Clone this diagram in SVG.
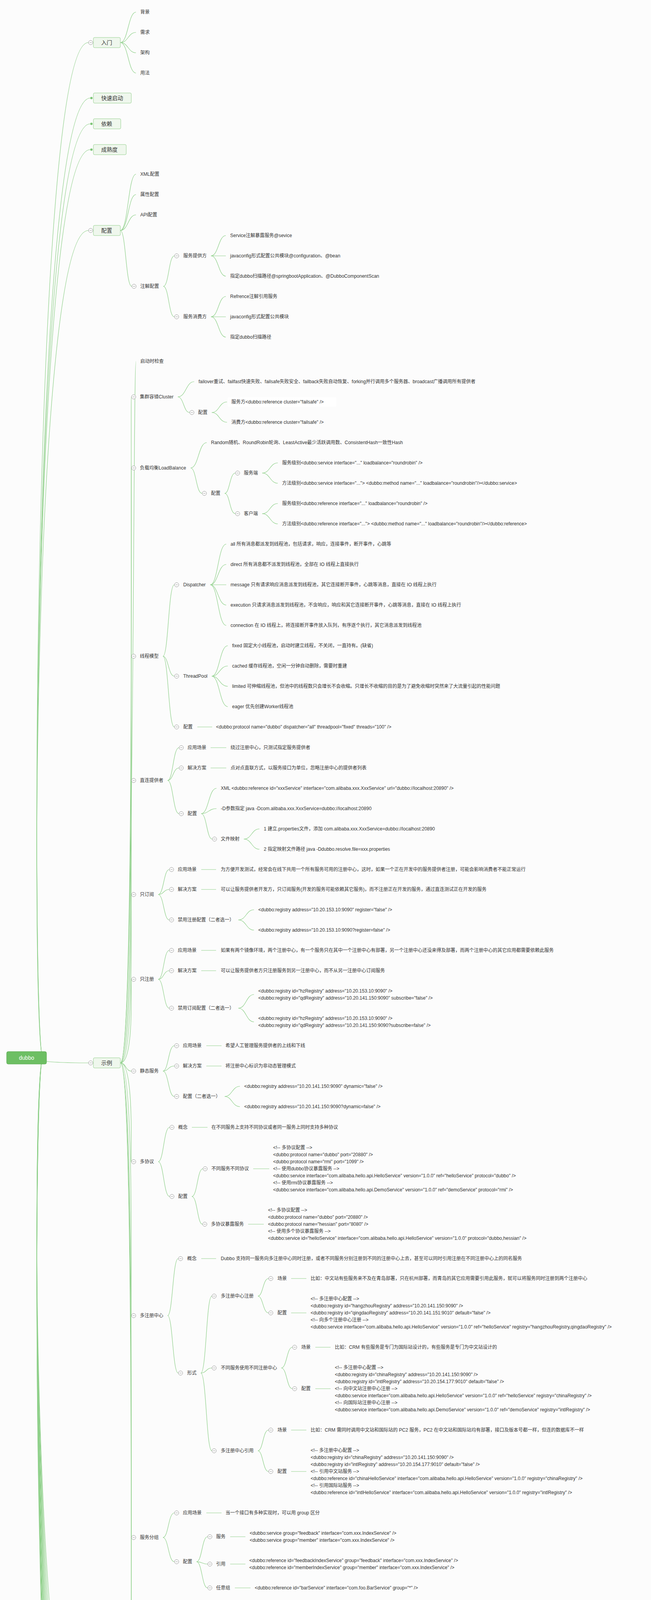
<svg xmlns="http://www.w3.org/2000/svg" xmlns:xlink="http://www.w3.org/1999/xlink" width="1666" height="5341" viewBox="0 0 1666 5341">
<style>
.ln{fill:none;stroke:#8fd08a;stroke-width:1.2}
.t{font-family:"Liberation Sans","Noto Sans CJK SC",sans-serif;font-size:12px;fill:#333;dominant-baseline:central}
.bt{font-size:14px}
.box{fill:#eff7ed;stroke:#93cf8c;stroke-width:1}
.root{fill:#6dbf63;stroke:#5aa951}
.rt{fill:#fff;font-size:14px;text-anchor:middle}
.dot{fill:#7cc575}
.cc{fill:#fff;stroke:#9a9a9a;stroke-width:1}
.cm{stroke:#9a9a9a;stroke-width:1}
</style>
<defs>
<g id="col"><circle class="cc" r="5.5"/><line class="cm" x1="-3" y1="0" x2="3" y2="0"/></g>
</defs>
<rect width="1666" height="5341" fill="#fcfcfc"/>
<rect x="583" y="1017" width="278" height="24" rx="3" fill="#ffffff"/>

<g id="connectors">
<!-- root -->
<path class="ln" d="M110,2708C80,2708 80,109 226,109"/>
<path class="ln" d="M110,2708C80,2708 80,251 231,251"/>
<path class="ln" d="M110,2708C80,2708 80,317 231,317"/>
<path class="ln" d="M110,2708C80,2708 80,383 231,383"/>
<path class="ln" d="M110,2708C80,2708 80,590 226,590"/>
<path class="ln" d="M110,2708C80,2708 80,2721 226,2721"/>
<path class="ln" d="M110,2708C80,2708 80,4580 231,4580"/>
<path class="ln" d="M110,2708C80,2708 80,4647 231,4647"/>
<path class="ln" d="M110,2708C80,2708 80,4713 231,4713"/>
<path class="ln" d="M110,2708C80,2708 80,4779 231,4779"/>
<path class="ln" d="M110,2708C80,2708 80,4845 231,4845"/>
<path class="ln" d="M110,2708C80,2708 80,4911 231,4911"/>
<path class="ln" d="M110,2708C80,2708 80,4977 231,4977"/>
<path class="ln" d="M110,2708C80,2708 80,5043 231,5043"/>
<path class="ln" d="M110,2708C80,2708 80,5109 231,5109"/>
<path class="ln" d="M110,2708C80,2708 80,5175 231,5175"/>
<path class="ln" d="M110,2708C80,2708 80,5241 231,5241"/>
<path class="ln" d="M110,2708C80,2708 80,5307 231,5307"/>
<!-- 入门 -->
<path class="ln" d="M308,109C328,109 328,31 348,31"/>
<path class="ln" d="M308,109C328,109 328,83 348,83"/>
<path class="ln" d="M308,109C328,109 328,135 348,135"/>
<path class="ln" d="M308,109C328,109 328,187 348,187"/>
<!-- 配置 -->
<path class="ln" d="M308,590C328,590 328,446 348,446"/>
<path class="ln" d="M308,590C328,590 328,498 348,498"/>
<path class="ln" d="M308,590C328,590 328,550 348,550"/>
<path class="ln" d="M308,590C322,590 322,733 337,733"/>
<path class="ln" d="M418,733C432,733 432,655 446,655"/>
<path class="ln" d="M418,733C432,733 432,811 446,811"/>
<path class="ln" d="M540,655C559,655 559,603 578,603"/>
<path class="ln" d="M540,655L578,655"/>
<path class="ln" d="M540,655C559,655 559,707 578,707"/>
<path class="ln" d="M540,811C559,811 559,759 578,759"/>
<path class="ln" d="M540,811L578,811"/>
<path class="ln" d="M540,811C559,811 559,863 578,863"/>
<!-- 示例 -->
<path class="ln" d="M308,2721C345,2721 340,925 348,925"/>
<path class="ln" d="M308,2721C345,2721 334,1016 336,1016"/>
<path class="ln" d="M308,2721C345,2721 334,1198 336,1198"/>
<path class="ln" d="M308,2721C345,2721 334,1680 336,1680"/>
<path class="ln" d="M308,2721C345,2721 334,1998 336,1998"/>
<path class="ln" d="M308,2721C345,2721 334,2290 336,2290"/>
<path class="ln" d="M308,2721C345,2721 334,2507 336,2507"/>
<path class="ln" d="M308,2721C322,2721 322,2742 336,2742"/>
<path class="ln" d="M308,2721C345,2721 334,2974 336,2974"/>
<path class="ln" d="M308,2721C345,2721 334,3368 336,3368"/>
<path class="ln" d="M308,2721C345,2721 334,3936 336,3936"/>
<path class="ln" d="M308,2721C345,2721 334,4246 336,4246"/>
<path class="ln" d="M308,2721C345,2721 334,4517 336,4517"/>
<!-- 集群容错 -->
<path class="ln" d="M455,1016C476,1016 476,977 497,977"/>
<path class="ln" d="M455,1016C470,1016 470,1056 485,1056"/>
<path class="ln" d="M542,1056C561,1056 561,1029 581,1029"/>
<path class="ln" d="M542,1056C561,1056 561,1081 581,1081"/>
<!-- 负载均衡 -->
<path class="ln" d="M488,1198C508,1198 508,1133 529,1133"/>
<path class="ln" d="M488,1198C502,1198 502,1263 517,1263"/>
<path class="ln" d="M575,1263C588,1263 588,1211 602,1211"/>
<path class="ln" d="M575,1263C588,1263 588,1315 602,1315"/>
<path class="ln" d="M671,1211C691,1211 691,1185 711,1185"/>
<path class="ln" d="M671,1211C691,1211 691,1237 711,1237"/>
<path class="ln" d="M671,1315C691,1315 691,1289 711,1289"/>
<path class="ln" d="M671,1315C691,1315 691,1341 711,1341"/>
<!-- 线程模型 -->
<path class="ln" d="M417,1680C431,1680 431,1497 446,1497"/>
<path class="ln" d="M417,1680C431,1680 431,1731 446,1731"/>
<path class="ln" d="M417,1680C431,1680 431,1861 446,1861"/>
<path class="ln" d="M538,1497C558,1497 558,1393 579,1393"/>
<path class="ln" d="M538,1497C558,1497 558,1445 579,1445"/>
<path class="ln" d="M538,1497L579,1497"/>
<path class="ln" d="M538,1497C558,1497 558,1549 579,1549"/>
<path class="ln" d="M538,1497C558,1497 558,1601 579,1601"/>
<path class="ln" d="M542,1731C562,1731 562,1653 583,1653"/>
<path class="ln" d="M542,1731C562,1731 562,1705 583,1705"/>
<path class="ln" d="M542,1731C562,1731 562,1757 583,1757"/>
<path class="ln" d="M542,1731C562,1731 562,1809 583,1809"/>
<path class="ln" d="M505,1861L543,1861"/>
<!-- 直连提供者 -->
<path class="ln" d="M429,1998C443,1998 443,1914 458,1914"/>
<path class="ln" d="M429,1998C443,1998 443,1966 458,1966"/>
<path class="ln" d="M429,1998C443,1998 443,2083 458,2083"/>
<path class="ln" d="M539,1914L579,1914"/>
<path class="ln" d="M539,1966L579,1966"/>
<path class="ln" d="M515,2083C534,2083 534,2018 554,2018"/>
<path class="ln" d="M515,2083C534,2083 534,2070 554,2070"/>
<path class="ln" d="M515,2083C529,2083 529,2148 543,2148"/>
<path class="ln" d="M624,2148C644,2148 644,2122 664,2122"/>
<path class="ln" d="M624,2148C644,2148 644,2174 664,2174"/>
<!-- 只订阅 -->
<path class="ln" d="M405,2290C419,2290 419,2226 433,2226"/>
<path class="ln" d="M405,2290C419,2290 419,2277 433,2277"/>
<path class="ln" d="M405,2290C419,2290 419,2355 433,2355"/>
<path class="ln" d="M515,2226L553,2226"/>
<path class="ln" d="M515,2277L553,2277"/>
<path class="ln" d="M610,2355C630,2355 630,2329 650,2329"/>
<path class="ln" d="M610,2355C630,2355 630,2381 650,2381"/>
<!-- 只注册 -->
<path class="ln" d="M405,2507C419,2507 419,2433 433,2433"/>
<path class="ln" d="M405,2507C419,2507 419,2485 433,2485"/>
<path class="ln" d="M405,2507C419,2507 419,2581 433,2581"/>
<path class="ln" d="M515,2433L553,2433"/>
<path class="ln" d="M515,2485L553,2485"/>
<path class="ln" d="M610,2581C630,2581 630,2546 650,2546"/>
<path class="ln" d="M610,2581C630,2581 630,2616 650,2616"/>
<!-- 静态服务 -->
<path class="ln" d="M417,2742C431,2742 431,2677 446,2677"/>
<path class="ln" d="M417,2742C431,2742 431,2729 446,2729"/>
<path class="ln" d="M417,2742C431,2742 431,2807 446,2807"/>
<path class="ln" d="M528,2677L567,2677"/>
<path class="ln" d="M528,2729L567,2729"/>
<path class="ln" d="M575,2807C594,2807 594,2781 614,2781"/>
<path class="ln" d="M575,2807C594,2807 594,2833 614,2833"/>
<!-- 多协议 -->
<path class="ln" d="M405,2974C419,2974 419,2886 434,2886"/>
<path class="ln" d="M405,2974C419,2974 419,3063 434,3063"/>
<path class="ln" d="M491,2886L531,2886"/>
<path class="ln" d="M491,3063C505,3063 505,2992 519,2992"/>
<path class="ln" d="M491,3063C505,3063 505,3134 518,3134"/>
<path class="ln" d="M648,2992L689,2992"/>
<path class="ln" d="M635,3134L675,3134"/>
<!-- 多注册中心 -->
<path class="ln" d="M429,3368C442,3368 442,3222 456,3222"/>
<path class="ln" d="M429,3368C442,3368 442,3515 456,3515"/>
<path class="ln" d="M515,3222L553,3222"/>
<path class="ln" d="M514,3515C528,3515 528,3318 542,3318"/>
<path class="ln" d="M514,3515C528,3515 528,3502 542,3502"/>
<path class="ln" d="M514,3515C528,3515 528,3714 542,3714"/>
<path class="ln" d="M660,3318C673,3318 673,3273 687,3273"/>
<path class="ln" d="M660,3318C673,3318 673,3361 687,3361"/>
<path class="ln" d="M745,3273L784,3273"/>
<path class="ln" d="M745,3361L784,3361"/>
<path class="ln" d="M720,3502C734,3502 734,3449 748,3449"/>
<path class="ln" d="M720,3502C734,3502 734,3555 748,3555"/>
<path class="ln" d="M807,3449L846,3449"/>
<path class="ln" d="M807,3555L846,3555"/>
<path class="ln" d="M660,3714C673,3714 673,3661 687,3661"/>
<path class="ln" d="M660,3714C673,3714 673,3767 687,3767"/>
<path class="ln" d="M745,3661L784,3661"/>
<path class="ln" d="M745,3767L784,3767"/>
<!-- 服务分组 -->
<path class="ln" d="M417,3936C431,3936 431,3873 446,3873"/>
<path class="ln" d="M417,3936C431,3936 431,3998 446,3998"/>
<path class="ln" d="M528,3873L567,3873"/>
<path class="ln" d="M503,3998C517,3998 517,3934 531,3934"/>
<path class="ln" d="M503,3998C517,3998 517,4004 531,4004"/>
<path class="ln" d="M503,3998C517,3998 517,4065 531,4065"/>
<path class="ln" d="M589,3934L628,3934"/>
<path class="ln" d="M589,4004L628,4004"/>
<path class="ln" d="M601,4065L641,4065"/>
<!-- 多版本 -->
<path class="ln" d="M405,4246C419,4246 419,4118 433,4118"/>
<path class="ln" d="M405,4246C419,4246 419,4188 433,4188"/>
<path class="ln" d="M405,4246C419,4246 419,4375 433,4375"/>
<path class="ln" d="M515,4118L553,4118"/>
<path class="ln" d="M492,4188L530,4188"/>
<path class="ln" d="M490,4375C504,4375 504,4284 518,4284"/>
<path class="ln" d="M490,4375C504,4375 504,4388 518,4388"/>
<path class="ln" d="M490,4375C509,4375 509,4466 529,4466"/>
<path class="ln" d="M587,4284C607,4284 607,4258 627,4258"/>
<path class="ln" d="M587,4284C607,4284 607,4309 627,4309"/>
<path class="ln" d="M587,4388C607,4388 607,4362 627,4362"/>
<path class="ln" d="M587,4388C607,4388 607,4413 627,4413"/>
<!-- 分组聚合 -->
<path class="ln" d="M418,4517L446,4517"/>
<path class="ln" d="M528,4517L566,4517"/>
</g>

<g id="n-root"><rect class="root" x="17" y="2692" width="102" height="32" rx="4"/><text class="t rt" x="68" y="2708">dubbo</text></g>

<g id="n-rumen"><rect class="box" x="239" y="96" width="69" height="26" rx="3"/><text class="t bt" x="259" y="109">入门</text><use href="#col" x="232" y="109"/></g>
<g id="n-rumen-1"><text class="t" x="359" y="31">背景</text></g>
<g id="n-rumen-2"><text class="t" x="359" y="83">需求</text></g>
<g id="n-rumen-3"><text class="t" x="359" y="135">架构</text></g>
<g id="n-rumen-4"><text class="t" x="359" y="187">用法</text></g>
<g id="n-kuaisu"><rect class="box" x="239" y="238" width="97" height="26" rx="3"/><text class="t bt" x="259" y="251">快速启动</text><circle class="dot" cx="234" cy="251" r="3"/></g>
<g id="n-yilai"><rect class="box" x="239" y="304" width="70" height="26" rx="3"/><text class="t bt" x="259" y="317">依赖</text><circle class="dot" cx="234" cy="317" r="3"/></g>
<g id="n-chengshu"><rect class="box" x="239" y="370" width="84" height="26" rx="3"/><text class="t bt" x="259" y="383">成熟度</text><circle class="dot" cx="234" cy="383" r="3"/></g>

<g id="n-peizhi"><rect class="box" x="239" y="577" width="69" height="26" rx="3"/><text class="t bt" x="259" y="590">配置</text><use href="#col" x="232" y="590"/></g>
<g id="n-pz-1"><text class="t" x="359" y="446">XML配置</text></g>
<g id="n-pz-2"><text class="t" x="359" y="498">属性配置</text></g>
<g id="n-pz-3"><text class="t" x="359" y="550">API配置</text></g>
<g id="n-pz-4"><use href="#col" x="343" y="733"/><text class="t" x="359" y="733">注解配置</text></g>
<g id="n-pz-4-1"><use href="#col" x="452" y="655"/><text class="t" x="469" y="655">服务提供方</text></g>
<g id="n-pz-4-1a"><text class="t" x="589" y="603">Service注解暴露服务@sevice</text></g>
<g id="n-pz-4-1b"><text class="t" x="589" y="655">javaconfig形式配置公共模块@configuration、@bean</text></g>
<g id="n-pz-4-1c"><text class="t" x="589" y="707">指定dubbo扫描路径@springbootApplication、@DubboComponentScan</text></g>
<g id="n-pz-4-2"><use href="#col" x="452" y="811"/><text class="t" x="469" y="811">服务消费方</text></g>
<g id="n-pz-4-2a"><text class="t" x="589" y="759">Refrence注解引用服务</text></g>
<g id="n-pz-4-2b"><text class="t" x="589" y="811">javaconfig形式配置公共模块</text></g>
<g id="n-pz-4-2c"><text class="t" x="589" y="863">指定dubbo扫描路径</text></g>

<g id="n-shili"><rect class="box" x="239" y="2708" width="69" height="26" rx="3"/><text class="t bt" x="259" y="2721">示例</text><use href="#col" x="232" y="2721"/></g>

<g id="n-qidong"><text class="t" x="359" y="925">启动时检查</text></g>

<g id="n-cluster"><use href="#col" x="342" y="1016"/><text class="t" x="358" y="1016">集群容错Cluster</text></g>
<g id="n-cluster-1"><text class="t" x="508" y="977">failover重试、failfast快速失败、failsafe失败安全、failback失败自动恢复、forking并行调用多个服务器、broadcast广播调用所有提供者</text></g>
<g id="n-cluster-2"><use href="#col" x="491" y="1056"/><text class="t" x="507" y="1056">配置</text></g>
<g id="n-cluster-2a"><text class="t" x="592" y="1029">服务方&lt;dubbo:reference cluster="failsafe" /&gt;</text></g>
<g id="n-cluster-2b"><text class="t" x="592" y="1081">消费方&lt;dubbo:reference cluster="failsafe" /&gt;</text></g>

<g id="n-lb"><use href="#col" x="342" y="1198"/><text class="t" x="358" y="1198">负载均衡LoadBalance</text></g>
<g id="n-lb-1"><text class="t" x="540" y="1133">Random随机、RoundRobin轮询、LeastActive最少活跃调用数、ConsistentHash一致性Hash</text></g>
<g id="n-lb-2"><use href="#col" x="523" y="1263"/><text class="t" x="540" y="1263">配置</text></g>
<g id="n-lb-2-1"><use href="#col" x="608" y="1211"/><text class="t" x="624" y="1211">服务端</text></g>
<g id="n-lb-2-1a"><text class="t" x="722" y="1185">服务级别&lt;dubbo:service interface="..." loadbalance="roundrobin" /&gt;</text></g>
<g id="n-lb-2-1b"><text class="t" x="722" y="1237">方法级别&lt;dubbo:service interface="..."&gt; &lt;dubbo:method name="..." loadbalance="roundrobin"/&gt;&lt;/dubbo:service&gt;</text></g>
<g id="n-lb-2-2"><use href="#col" x="608" y="1315"/><text class="t" x="624" y="1315">客户端</text></g>
<g id="n-lb-2-2a"><text class="t" x="722" y="1289">服务级别&lt;dubbo:reference interface="..." loadbalance="roundrobin" /&gt;</text></g>
<g id="n-lb-2-2b"><text class="t" x="722" y="1341">方法级别&lt;dubbo:reference interface="..."&gt; &lt;dubbo:method name="..." loadbalance="roundrobin"/&gt;&lt;/dubbo:reference&gt;</text></g>

<g id="n-thread"><use href="#col" x="342" y="1680"/><text class="t" x="358" y="1680">线程模型</text></g>
<g id="n-disp"><use href="#col" x="452" y="1497"/><text class="t" x="469" y="1497">Dispatcher</text></g>
<g id="n-disp-1"><text class="t" x="590" y="1393">all 所有消息都派发到线程池，包括请求，响应，连接事件，断开事件，心跳等</text></g>
<g id="n-disp-2"><text class="t" x="590" y="1445">direct 所有消息都不派发到线程池，全部在 IO 线程上直接执行</text></g>
<g id="n-disp-3"><text class="t" x="590" y="1497">message 只有请求响应消息派发到线程池，其它连接断开事件，心跳等消息，直接在 IO 线程上执行</text></g>
<g id="n-disp-4"><text class="t" x="590" y="1549">execution 只请求消息派发到线程池，不含响应，响应和其它连接断开事件，心跳等消息，直接在 IO 线程上执行</text></g>
<g id="n-disp-5"><text class="t" x="590" y="1601">connection 在 IO 线程上，将连接断开事件放入队列，有序逐个执行，其它消息派发到线程池</text></g>
<g id="n-tp"><use href="#col" x="452" y="1731"/><text class="t" x="469" y="1731">ThreadPool</text></g>
<g id="n-tp-1"><text class="t" x="594" y="1653">fixed 固定大小线程池，启动时建立线程，不关闭，一直持有。(缺省)</text></g>
<g id="n-tp-2"><text class="t" x="594" y="1705">cached 缓存线程池，空闲一分钟自动删除，需要时重建</text></g>
<g id="n-tp-3"><text class="t" x="594" y="1757">limited 可伸缩线程池，但池中的线程数只会增长不会收缩。只增长不收缩的目的是为了避免收缩时突然来了大流量引起的性能问题</text></g>
<g id="n-tp-4"><text class="t" x="594" y="1809">eager 优先创建Worker线程池</text></g>
<g id="n-thread-3"><use href="#col" x="452" y="1861"/><text class="t" x="469" y="1861">配置</text></g>
<g id="n-thread-3a"><text class="t" x="553" y="1861">&lt;dubbo:protocol name="dubbo" dispatcher="all" threadpool="fixed" threads="100" /&gt;</text></g>

<g id="n-direct"><use href="#col" x="342" y="1998"/><text class="t" x="358" y="1998">直连提供者</text></g>
<g id="n-direct-1"><use href="#col" x="464" y="1914"/><text class="t" x="480" y="1914">应用场景</text></g>
<g id="n-direct-1a"><text class="t" x="590" y="1914">绕过注册中心，只测试指定服务提供者</text></g>
<g id="n-direct-2"><use href="#col" x="464" y="1966"/><text class="t" x="480" y="1966">解决方案</text></g>
<g id="n-direct-2a"><text class="t" x="590" y="1966">点对点直联方式，以服务接口为单位，忽略注册中心的提供者列表</text></g>
<g id="n-direct-3"><use href="#col" x="464" y="2083"/><text class="t" x="480" y="2083">配置</text></g>
<g id="n-direct-3a"><text class="t" x="565" y="2018">XML &lt;dubbo:reference id="xxxService" interface="com.alibaba.xxx.XxxService" url="dubbo://localhost:20890" /&gt;</text></g>
<g id="n-direct-3b"><text class="t" x="565" y="2070">-D参数指定 java -Dcom.alibaba.xxx.XxxService=dubbo://localhost:20890</text></g>
<g id="n-direct-3c"><use href="#col" x="549" y="2148"/><text class="t" x="565" y="2148">文件映射</text></g>
<g id="n-direct-3c1"><text class="t" x="675" y="2122">1 建立.properties文件，添加 com.alibaba.xxx.XxxService=dubbo://localhost:20890</text></g>
<g id="n-direct-3c2"><text class="t" x="675" y="2174">2 指定映射文件路径 java -Ddubbo.resolve.file=xxx.properties</text></g>

<g id="n-sub"><use href="#col" x="342" y="2290"/><text class="t" x="358" y="2290">只订阅</text></g>
<g id="n-sub-1"><use href="#col" x="439" y="2226"/><text class="t" x="455" y="2226">应用场景</text></g>
<g id="n-sub-1a"><text class="t" x="565" y="2226">为方便开发测试，经常会在线下共用一个所有服务可用的注册中心，这时，如果一个正在开发中的服务提供者注册，可能会影响消费者不能正常运行</text></g>
<g id="n-sub-2"><use href="#col" x="439" y="2277"/><text class="t" x="455" y="2277">解决方案</text></g>
<g id="n-sub-2a"><text class="t" x="565" y="2277">可以让服务提供者开发方，只订阅服务(开发的服务可能依赖其它服务)，而不注册正在开发的服务，通过直连测试正在开发的服务</text></g>
<g id="n-sub-3"><use href="#col" x="439" y="2355"/><text class="t" x="455" y="2355">禁用注册配置（二者选一）</text></g>
<g id="n-sub-3a"><text class="t" x="661" y="2329">&lt;dubbo:registry address="10.20.153.10:9090" register="false" /&gt;</text></g>
<g id="n-sub-3b"><text class="t" x="661" y="2381">&lt;dubbo:registry address="10.20.153.10:9090?register=false" /&gt;</text></g>

<g id="n-reg"><use href="#col" x="342" y="2507"/><text class="t" x="358" y="2507">只注册</text></g>
<g id="n-reg-1"><use href="#col" x="439" y="2433"/><text class="t" x="455" y="2433">应用场景</text></g>
<g id="n-reg-1a"><text class="t" x="565" y="2433">如果有两个镜像环境，两个注册中心，有一个服务只在其中一个注册中心有部署，另一个注册中心还没来得及部署，而两个注册中心的其它应用都需要依赖此服务</text></g>
<g id="n-reg-2"><use href="#col" x="439" y="2485"/><text class="t" x="455" y="2485">解决方案</text></g>
<g id="n-reg-2a"><text class="t" x="565" y="2485">可以让服务提供者方只注册服务到另一注册中心，而不从另一注册中心订阅服务</text></g>
<g id="n-reg-3"><use href="#col" x="439" y="2581"/><text class="t" x="455" y="2581">禁用订阅配置（二者选一）</text></g>
<g id="n-reg-3a"><text class="t" x="661" y="2537">&lt;dubbo:registry id="hzRegistry" address="10.20.153.10:9090" /&gt;</text><text class="t" x="661" y="2555">&lt;dubbo:registry id="qdRegistry" address="10.20.141.150:9090" subscribe="false" /&gt;</text></g>
<g id="n-reg-3b"><text class="t" x="661" y="2607">&lt;dubbo:registry id="hzRegistry" address="10.20.153.10:9090" /&gt;</text><text class="t" x="661" y="2625">&lt;dubbo:registry id="qdRegistry" address="10.20.141.150:9090?subscribe=false" /&gt;</text></g>

<g id="n-static"><use href="#col" x="342" y="2742"/><text class="t" x="358" y="2742">静态服务</text></g>
<g id="n-static-1"><use href="#col" x="452" y="2677"/><text class="t" x="468" y="2677">应用场景</text></g>
<g id="n-static-1a"><text class="t" x="577" y="2677">希望人工管理服务提供者的上线和下线</text></g>
<g id="n-static-2"><use href="#col" x="452" y="2729"/><text class="t" x="468" y="2729">解决方案</text></g>
<g id="n-static-2a"><text class="t" x="577" y="2729">将注册中心标识为非动态管理模式</text></g>
<g id="n-static-3"><use href="#col" x="452" y="2807"/><text class="t" x="468" y="2807">配置（二者选一）</text></g>
<g id="n-static-3a"><text class="t" x="625" y="2781">&lt;dubbo:registry address="10.20.141.150:9090" dynamic="false" /&gt;</text></g>
<g id="n-static-3b"><text class="t" x="625" y="2833">&lt;dubbo:registry address="10.20.141.150:9090?dynamic=false" /&gt;</text></g>

<g id="n-proto"><use href="#col" x="342" y="2974"/><text class="t" x="358" y="2974">多协议</text></g>
<g id="n-proto-1"><use href="#col" x="440" y="2886"/><text class="t" x="456" y="2886">概念</text></g>
<g id="n-proto-1a"><text class="t" x="541" y="2886">在不同服务上支持不同协议或者同一服务上同时支持多种协议</text></g>
<g id="n-proto-2"><use href="#col" x="440" y="3063"/><text class="t" x="456" y="3063">配置</text></g>
<g id="n-proto-2-1"><use href="#col" x="525" y="2992"/><text class="t" x="541" y="2992">不同服务不同协议</text></g>
<g id="n-proto-2-1a">
<text class="t" x="699" y="2938">&lt;!-- 多协议配置 --&gt;</text>
<text class="t" x="699" y="2956">&lt;dubbo:protocol name="dubbo" port="20880" /&gt;</text>
<text class="t" x="699" y="2974">&lt;dubbo:protocol name="rmi" port="1099" /&gt;</text>
<text class="t" x="699" y="2992">&lt;!-- 使用dubbo协议暴露服务 --&gt;</text>
<text class="t" x="699" y="3010">&lt;dubbo:service interface="com.alibaba.hello.api.HelloService" version="1.0.0" ref="helloService" protocol="dubbo" /&gt;</text>
<text class="t" x="699" y="3028">&lt;!-- 使用rmi协议暴露服务 --&gt;</text>
<text class="t" x="699" y="3046">&lt;dubbo:service interface="com.alibaba.hello.api.DemoService" version="1.0.0" ref="demoService" protocol="rmi" /&gt;</text>
</g>
<g id="n-proto-2-2"><use href="#col" x="524" y="3134"/><text class="t" x="540" y="3134">多协议暴露服务</text></g>
<g id="n-proto-2-2a">
<text class="t" x="686" y="3098">&lt;!-- 多协议配置 --&gt;</text>
<text class="t" x="686" y="3116">&lt;dubbo:protocol name="dubbo" port="20880" /&gt;</text>
<text class="t" x="686" y="3134">&lt;dubbo:protocol name="hessian" port="8080" /&gt;</text>
<text class="t" x="686" y="3152">&lt;!-- 使用多个协议暴露服务 --&gt;</text>
<text class="t" x="686" y="3170">&lt;dubbo:service id="helloService" interface="com.alibaba.hello.api.HelloService" version="1.0.0" protocol="dubbo,hessian" /&gt;</text>
</g>

<g id="n-mreg"><use href="#col" x="342" y="3368"/><text class="t" x="358" y="3368">多注册中心</text></g>
<g id="n-mreg-1"><use href="#col" x="462" y="3222"/><text class="t" x="479" y="3222">概念</text></g>
<g id="n-mreg-1a"><text class="t" x="565" y="3222">Dubbo 支持同一服务向多注册中心同时注册，或者不同服务分别注册到不同的注册中心上去，甚至可以同时引用注册在不同注册中心上的同名服务</text></g>
<g id="n-mreg-2"><use href="#col" x="462" y="3515"/><text class="t" x="479" y="3515">形式</text></g>
<g id="n-mreg-2-1"><use href="#col" x="548" y="3318"/><text class="t" x="565" y="3318">多注册中心注册</text></g>
<g id="n-mreg-2-1-1"><use href="#col" x="693" y="3273"/><text class="t" x="710" y="3273">场景</text></g>
<g id="n-mreg-2-1-1a"><text class="t" x="795" y="3273">比如：中文站有些服务来不及在青岛部署，只在杭州部署，而青岛的其它应用需要引用此服务，就可以将服务同时注册到两个注册中心</text></g>
<g id="n-mreg-2-1-2"><use href="#col" x="693" y="3361"/><text class="t" x="710" y="3361">配置</text></g>
<g id="n-mreg-2-1-2a">
<text class="t" x="795" y="3325">&lt;!-- 多注册中心配置 --&gt;</text>
<text class="t" x="795" y="3343">&lt;dubbo:registry id="hangzhouRegistry" address="10.20.141.150:9090" /&gt;</text>
<text class="t" x="795" y="3361">&lt;dubbo:registry id="qingdaoRegistry" address="10.20.141.151:9010" default="false" /&gt;</text>
<text class="t" x="795" y="3379">&lt;!-- 向多个注册中心注册 --&gt;</text>
<text class="t" x="795" y="3397">&lt;dubbo:service interface="com.alibaba.hello.api.HelloService" version="1.0.0" ref="helloService" registry="hangzhouRegistry,qingdaoRegistry" /&gt;</text>
</g>
<g id="n-mreg-2-2"><use href="#col" x="548" y="3502"/><text class="t" x="565" y="3502">不同服务使用不同注册中心</text></g>
<g id="n-mreg-2-2-1"><use href="#col" x="754" y="3449"/><text class="t" x="771" y="3449">场景</text></g>
<g id="n-mreg-2-2-1a"><text class="t" x="857" y="3449">比如：CRM 有些服务是专门为国际站设计的，有些服务是专门为中文站设计的</text></g>
<g id="n-mreg-2-2-2"><use href="#col" x="754" y="3555"/><text class="t" x="771" y="3555">配置</text></g>
<g id="n-mreg-2-2-2a">
<text class="t" x="857" y="3501">&lt;!-- 多注册中心配置 --&gt;</text>
<text class="t" x="857" y="3519">&lt;dubbo:registry id="chinaRegistry" address="10.20.141.150:9090" /&gt;</text>
<text class="t" x="857" y="3537">&lt;dubbo:registry id="intlRegistry" address="10.20.154.177:9010" default="false" /&gt;</text>
<text class="t" x="857" y="3555">&lt;!-- 向中文站注册中心注册 --&gt;</text>
<text class="t" x="857" y="3573">&lt;dubbo:service interface="com.alibaba.hello.api.HelloService" version="1.0.0" ref="helloService" registry="chinaRegistry" /&gt;</text>
<text class="t" x="857" y="3591">&lt;!-- 向国际站注册中心注册 --&gt;</text>
<text class="t" x="857" y="3609">&lt;dubbo:service interface="com.alibaba.hello.api.DemoService" version="1.0.0" ref="demoService" registry="intlRegistry" /&gt;</text>
</g>
<g id="n-mreg-2-3"><use href="#col" x="548" y="3714"/><text class="t" x="565" y="3714">多注册中心引用</text></g>
<g id="n-mreg-2-3-1"><use href="#col" x="693" y="3661"/><text class="t" x="710" y="3661">场景</text></g>
<g id="n-mreg-2-3-1a"><text class="t" x="795" y="3661">比如：CRM 需同时调用中文站和国际站的 PC2 服务，PC2 在中文站和国际站均有部署，接口及版本号都一样，但连的数据库不一样</text></g>
<g id="n-mreg-2-3-2"><use href="#col" x="693" y="3767"/><text class="t" x="710" y="3767">配置</text></g>
<g id="n-mreg-2-3-2a">
<text class="t" x="795" y="3713">&lt;!-- 多注册中心配置 --&gt;</text>
<text class="t" x="795" y="3731">&lt;dubbo:registry id="chinaRegistry" address="10.20.141.150:9090" /&gt;</text>
<text class="t" x="795" y="3749">&lt;dubbo:registry id="intlRegistry" address="10.20.154.177:9010" default="false" /&gt;</text>
<text class="t" x="795" y="3767">&lt;!-- 引用中文站服务 --&gt;</text>
<text class="t" x="795" y="3785">&lt;dubbo:reference id="chinaHelloService" interface="com.alibaba.hello.api.HelloService" version="1.0.0" registry="chinaRegistry" /&gt;</text>
<text class="t" x="795" y="3803">&lt;!-- 引用国际站服务 --&gt;</text>
<text class="t" x="795" y="3821">&lt;dubbo:reference id="intlHelloService" interface="com.alibaba.hello.api.HelloService" version="1.0.0" registry="intlRegistry" /&gt;</text>
</g>

<g id="n-group"><use href="#col" x="342" y="3936"/><text class="t" x="358" y="3936">服务分组</text></g>
<g id="n-group-1"><use href="#col" x="452" y="3873"/><text class="t" x="468" y="3873">应用场景</text></g>
<g id="n-group-1a"><text class="t" x="577" y="3873">当一个接口有多种实现时，可以用 group 区分</text></g>
<g id="n-group-2"><use href="#col" x="452" y="3998"/><text class="t" x="468" y="3998">配置</text></g>
<g id="n-group-2-1"><use href="#col" x="537" y="3934"/><text class="t" x="553" y="3934">服务</text></g>
<g id="n-group-2-1a"><text class="t" x="639" y="3925">&lt;dubbo:service group="feedback" interface="com.xxx.IndexService" /&gt;</text><text class="t" x="639" y="3943">&lt;dubbo:service group="member" interface="com.xxx.IndexService" /&gt;</text></g>
<g id="n-group-2-2"><use href="#col" x="537" y="4004"/><text class="t" x="553" y="4004">引用</text></g>
<g id="n-group-2-2a"><text class="t" x="638" y="3995">&lt;dubbo:reference id="feedbackIndexService" group="feedback" interface="com.xxx.IndexService" /&gt;</text><text class="t" x="638" y="4013">&lt;dubbo:reference id="memberIndexService" group="member" interface="com.xxx.IndexService" /&gt;</text></g>
<g id="n-group-2-3"><use href="#col" x="537" y="4065"/><text class="t" x="553" y="4065">任意组</text></g>
<g id="n-group-2-3a"><text class="t" x="652" y="4065">&lt;dubbo:reference id="barService" interface="com.foo.BarService" group="*" /&gt;</text></g>

<g id="n-ver"><use href="#col" x="342" y="4246"/><text class="t" x="358" y="4246">多版本</text></g>
<g id="n-ver-1"><use href="#col" x="439" y="4118"/><text class="t" x="455" y="4118">应用场景</text></g>
<g id="n-ver-1a"><text class="t" x="565" y="4118">当一个接口实现，出现不兼容升级时，可以用版本号过渡，版本号不同的服务相互间不引用</text></g>
<g id="n-ver-2"><use href="#col" x="439" y="4188"/><text class="t" x="455" y="4188">步骤</text></g>
<g id="n-ver-2a"><text class="t" x="541" y="4170">1 在低压力时间段，先升级一半提供者为新版本</text><text class="t" x="541" y="4188">2 再将所有消费者升级为新版本</text><text class="t" x="541" y="4206">3 然后将剩下的一半提供者升级为新版本</text></g>
<g id="n-ver-3"><use href="#col" x="439" y="4375"/><text class="t" x="455" y="4375">配置</text></g>
<g id="n-ver-3-1"><use href="#col" x="524" y="4284"/><text class="t" x="540" y="4284">老版本</text></g>
<g id="n-ver-3-1a"><text class="t" x="638" y="4258">服务提供者 &lt;dubbo:service interface="com.foo.BarService" version="1.0.0" /&gt;</text></g>
<g id="n-ver-3-1b"><text class="t" x="638" y="4309">服务消费者 &lt;dubbo:reference id="barService" interface="com.foo.BarService" version="1.0.0" /&gt;</text></g>
<g id="n-ver-3-2"><use href="#col" x="524" y="4388"/><text class="t" x="540" y="4388">新版本</text></g>
<g id="n-ver-3-2a"><text class="t" x="638" y="4362">服务提供者 &lt;dubbo:service interface="com.foo.BarService" version="2.0.0" /&gt;</text></g>
<g id="n-ver-3-2b"><text class="t" x="638" y="4413">服务消费者 &lt;dubbo:reference id="barService" interface="com.foo.BarService" version="2.0.0" /&gt;</text></g>
<g id="n-ver-3-3"><text class="t" x="540" y="4466">不需区分版本 &lt;dubbo:reference id="barService" interface="com.foo.BarService" version="*" /&gt;</text></g>

<g id="n-merge"><use href="#col" x="342" y="4517"/><text class="t" x="358" y="4517">分组聚合</text></g>
<g id="n-merge-1"><use href="#col" x="452" y="4517"/><text class="t" x="468" y="4517">应用场景</text></g>
<g id="n-merge-1a"><text class="t" x="577" y="4517">按组合并返回结果，比如菜单服务，接口一样，但有多种实现，用group区分，现在消费方需从每种group中调用一次返回结果，合并结果返回，这样就可以实现聚合菜单项</text></g>

<g id="n-api"><rect class="box" x="239" y="4567" width="149" height="26" rx="3"/><text class="t bt" x="259" y="4580">API配置参考手册</text><circle class="dot" cx="234" cy="4580" r="3"/></g>
<g id="n-schema"><rect class="box" x="239" y="4634" width="176" height="26" rx="3"/><text class="t bt" x="259" y="4647">schema配置参考手册</text><circle class="dot" cx="234" cy="4647" r="3"/></g>
<g id="n-xieyi"><rect class="box" x="239" y="4700" width="126" height="26" rx="3"/><text class="t bt" x="259" y="4713">协议参考手册</text><circle class="dot" cx="234" cy="4713" r="3"/></g>
<g id="n-zhuce"><rect class="box" x="239" y="4766" width="154" height="26" rx="3"/><text class="t bt" x="259" y="4779">注册中心参考手册</text><circle class="dot" cx="234" cy="4779" r="3"/></g>
<g id="n-telnet"><rect class="box" x="239" y="4832" width="164" height="26" rx="3"/><text class="t bt" x="259" y="4845">telnet命令参考手册</text><circle class="dot" cx="234" cy="4845" r="3"/></g>
<g id="n-qos"><rect class="box" x="239" y="4898" width="162" height="26" rx="3"/><text class="t bt" x="259" y="4911">在线运维命令-QOS</text><circle class="dot" cx="234" cy="4911" r="3"/></g>
<g id="n-maven"><rect class="box" x="239" y="4964" width="170" height="26" rx="3"/><text class="t bt" x="259" y="4977">maven插件参考手册</text><circle class="dot" cx="234" cy="4977" r="3"/></g>
<g id="n-best"><rect class="box" x="239" y="5030" width="139" height="26" rx="3"/><text class="t bt" x="259" y="5043">服务化最佳实践</text><circle class="dot" cx="234" cy="5043" r="3"/></g>
<g id="n-tuijian"><rect class="box" x="239" y="5096" width="98" height="26" rx="3"/><text class="t bt" x="259" y="5109">推荐用法</text><circle class="dot" cx="234" cy="5109" r="3"/></g>
<g id="n-rongliang"><rect class="box" x="239" y="5162" width="97" height="26" rx="3"/><text class="t bt" x="259" y="5175">容量规划</text><circle class="dot" cx="234" cy="5175" r="3"/></g>
<g id="n-perf"><rect class="box" x="239" y="5228" width="126" height="26" rx="3"/><text class="t bt" x="259" y="5241">性能测试报告</text><circle class="dot" cx="234" cy="5241" r="3"/></g>
<g id="n-cover"><rect class="box" x="239" y="5294" width="140" height="26" rx="3"/><text class="t bt" x="259" y="5307">测试覆盖率报告</text><circle class="dot" cx="234" cy="5307" r="3"/></g>
</svg>
